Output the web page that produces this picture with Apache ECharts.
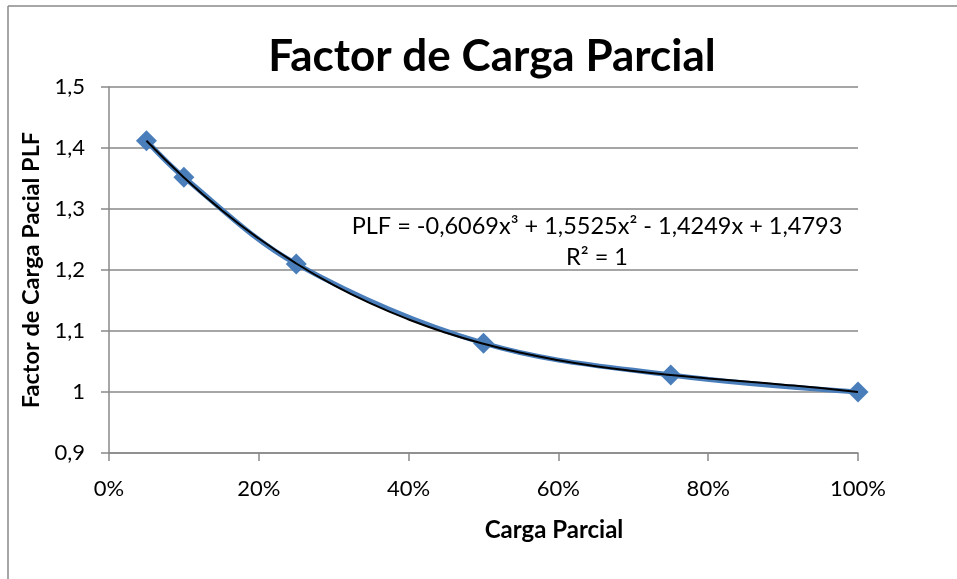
<!DOCTYPE html>
<html>
<head>
<meta charset="utf-8">
<script src="https://cdn.jsdelivr.net/npm/echarts@6/dist/echarts.min.js"></script>
<style>
  html, body { margin: 0; padding: 0; background: #ffffff; }
  #chart { width: 957px; height: 579px; }
</style>
</head>
<body>
<div id="chart"></div>
<script>
// Partial load (fraction of full load) and the measured part-load factor
const cargaParcial = [0.05, 0.10, 0.25, 0.50, 0.75, 1.00];
const plfValues = [1.412, 1.352, 1.21, 1.08, 1.028, 1.0];

// Cubic trendline coefficients, highest power first (as in the equation label)
const trendCoefs = [-0.6069, 1.5525, -1.4249, 1.4793];
const trendXs = [0.05, 0.10, 0.15, 0.20, 0.25, 0.30, 0.35, 0.40, 0.45, 0.50,
                 0.55, 0.60, 0.65, 0.70, 0.75, 0.80, 0.85, 0.90, 0.95, 1.00];

// Axis ranges
const xTicks = [0, 0.2, 0.4, 0.6, 0.8, 1.0];
const yTicks = [0.9, 1.0, 1.1, 1.2, 1.3, 1.4, 1.5];

const chartTitle = 'Factor de Carga Parcial';
const xName = 'Carga Parcial';
const yName = 'Factor de Carga Pacial PLF';
const eqText = 'PLF = -0,6069x³ + 1,5525x² - 1,4249x + 1,4793';
const r2Text = 'R² = 1';

const FONT = 'Lato, "Open Sans", sans-serif';

function poly(x) {
  return trendCoefs.reduce((acc, c) => acc * x + c, 0);
}

const pointData = cargaParcial.map((x, i) => [x, plfValues[i]]);
const trendData = trendXs.map(x => [x, poly(x)]);

function fmtY(v) {
  const r = Math.round(v * 10) / 10;
  if (Math.abs(r - Math.round(r)) < 1e-9) return String(Math.round(r));
  return r.toFixed(1).replace('.', ',');
}

const chart = echarts.init(document.getElementById('chart'), null, { renderer: 'canvas' });

chart.setOption({
  backgroundColor: '#ffffff',
  animation: false,
  title: {
    text: chartTitle,
    left: 487,
    top: 30,
    textAlign: 'center',
    textStyle: { fontFamily: FONT, fontWeight: 'bold', fontSize: 44, color: '#000000' }
  },
  grid: { left: 109, right: 99, top: 87, bottom: 126, containLabel: false },
  xAxis: {
    type: 'value',
    min: xTicks[0],
    max: xTicks[xTicks.length - 1],
    interval: 0.2,
    axisLine: { show: true, lineStyle: { color: '#898989', width: 1.5 } },
    axisTick: { show: true, inside: false, length: 8, lineStyle: { color: '#898989', width: 1.5 } },
    splitLine: { show: false },
    axisLabel: {
      margin: 25,
      fontFamily: FONT, fontSize: 22, color: '#000000',
      formatter: v => Math.round(v * 100) + '%'
    }
  },
  yAxis: {
    type: 'value',
    min: yTicks[0],
    max: yTicks[yTicks.length - 1],
    interval: 0.1,
    name: yName,
    nameLocation: 'middle',
    nameGap: 66,
    nameTextStyle: { fontFamily: FONT, fontWeight: 'bold', fontSize: 23.5, color: '#000000' },
    axisLine: { show: true, lineStyle: { color: '#898989', width: 1.5 } },
    axisTick: { show: true, inside: false, length: 8, lineStyle: { color: '#898989', width: 1.5 } },
    splitLine: { show: true, lineStyle: { color: '#898989', width: 1.5 } },
    axisLabel: {
      margin: 24,
      fontFamily: FONT, fontSize: 22, color: '#000000',
      formatter: fmtY
    }
  },
  graphic: [
    { type: 'line', shape: { x1: 8, y1: 6, x2: 957, y2: 6 }, style: { stroke: '#8a8a8a', lineWidth: 1.5 } },
    { type: 'line', shape: { x1: 8, y1: 6, x2: 8, y2: 579 }, style: { stroke: '#8a8a8a', lineWidth: 1.5 } },
    { type: 'text', x: 597, y: 226, style: { text: eqText, fontFamily: FONT, fontSize: 23.5, fill: '#000000', align: 'center', verticalAlign: 'middle' } },
    { type: 'text', x: 597, y: 257, style: { text: r2Text, fontFamily: FONT, fontSize: 23.5, fill: '#000000', align: 'center', verticalAlign: 'middle' } },
    { type: 'text', x: 554, y: 530, style: { text: xName, fontFamily: FONT, fontWeight: 'bold', fontSize: 24, fill: '#000000', align: 'center', verticalAlign: 'middle' } }
  ],
  series: [
    {
      name: 'PLF',
      type: 'line',
      data: pointData,
      smooth: 0.35,
      symbol: 'diamond',
      symbolSize: 21,
      lineStyle: { color: '#4a7ebb', width: 5 },
      itemStyle: { color: '#4a7ebb', borderWidth: 0 },
      z: 2
    },
    {
      name: 'Polinómica (PLF)',
      type: 'line',
      data: trendData,
      smooth: true,
      showSymbol: false,
      symbol: 'none',
      lineStyle: { color: '#000000', width: 2 },
      z: 3
    }
  ]
});
</script>
</body>
</html>
